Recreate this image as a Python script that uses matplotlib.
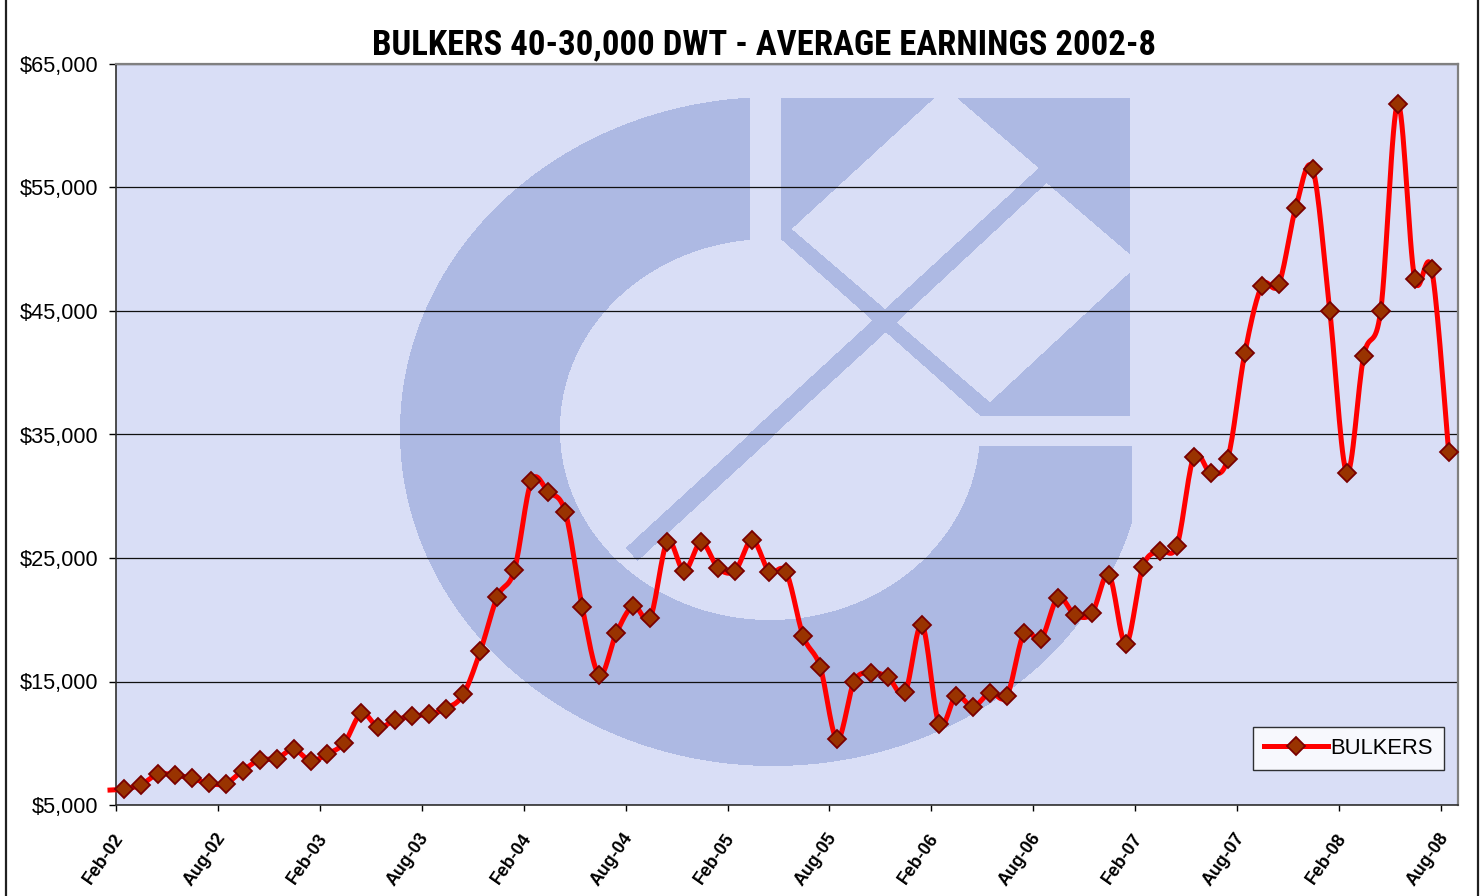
import numpy as np
import matplotlib
matplotlib.use("Agg")
import matplotlib.pyplot as plt
from matplotlib.path import Path
from matplotlib.lines import Line2D
from matplotlib.transforms import ScaledTranslation, blended_transform_factory
from matplotlib import font_manager

# ---------------- data ----------------
title = "BULKERS 40-30,000 DWT - AVERAGE EARNINGS 2002-8"
series_name = "BULKERS"
# monthly average earnings, Feb-02 ... Aug-08 ($/day)
earnings = [6300, 6620, 7490, 7430, 7160, 6760, 6730, 7780, 8650, 8750,
            9510, 8590, 9130, 10050, 12430, 11290, 11900, 12180, 12370, 12810,
            13970, 17470, 21870, 24010, 31220, 30350, 28710, 21010, 15530, 18910,
            21120, 20170, 26300, 23950, 26280, 24170, 23980, 26470, 23900, 23850,
            18690, 16200, 10320, 14990, 15720, 15340, 14130, 19580, 11550, 13830,
            12960, 14100, 13850, 18910, 18420, 21790, 20390, 20530, 23630, 18040,
            24300, 25600, 25980, 33210, 31900, 33050, 41590, 47040, 47170, 53380,
            56490, 45040, 31920, 41370, 45040, 61780, 47610, 48390, 33570]
prior_value = 6200   # Jan-02, line only (no marker) at the left edge
x_tick_labels = ["Feb-02", "Aug-02", "Feb-03", "Aug-03", "Feb-04", "Aug-04", "Feb-05",
                 "Aug-05", "Feb-06", "Aug-06", "Feb-07", "Aug-07", "Feb-08", "Aug-08"]
y_ticks = [5000, 15000, 25000, 35000, 45000, 55000, 65000]
y_tick_labels = ["$5,000", "$15,000", "$25,000", "$35,000", "$45,000", "$55,000", "$65,000"]

# ---------------- figure ----------------
W, H = 1481, 896
fig = plt.figure(figsize=(W / 100, H / 100), dpi=100)
fig.patch.set_facecolor("white")
L, R, T, B = 116, 1458, 64, 805
ax = fig.add_axes([L / W, 1 - B / H, (R - L) / W, (B - T) / H])
BG = "#D9DEF6"
DARK = np.array([173, 185, 227]) / 255.0
ax.set_facecolor(BG)

# ---------------- watermark logo (raster, pixel coordinates) ----------------
xs_pix = np.arange(L, R) + 0.5
ys_pix = np.arange(T, B) + 0.5
X, Y = np.meshgrid(xs_pix, ys_pix)
pts = np.column_stack([X.ravel(), Y.ravel()])

def ell(cx, cy, a, b):
    return ((X - cx) / a) ** 2 + ((Y - cy) / b) ** 2 <= 1.0

def poly(vertices):
    return Path(vertices).contains_points(pts).reshape(X.shape)

ring = ell(773, 432, 373, 334) & ~ell(770, 430, 210, 190)
ring &= ~((X > 750) & (Y < 446)) & (X < 1132)

square = poly([(780.7, 99.3), (1130, 99.3), (1130, 416.7), (980, 416.7), (780.7, 240)])
d1 = poly([(791.7, 230), (885, 310), (1038.7, 169), (945.3, 89)])
d2 = poly([(896.7, 323.3), (990, 403.3), (1140, 264), (1046.7, 184)])
stripe = poly([(885, 310), (896.7, 323.3), (637.6, 561), (625.6, 548)])
dark = ring | (square & ~d1 & ~d2) | stripe

img = np.zeros(X.shape + (4,))
img[..., :3] = DARK
img[..., 3] = dark.astype(float)
ax.imshow(img, extent=(0, 1, 0, 1), transform=ax.transAxes, origin="upper",
          aspect="auto", interpolation="nearest", zorder=0.1)

# ---------------- smoothed line ----------------
def smooth(xv, yv, n=16):
    P = np.column_stack([xv, yv]).astype(float)
    Pe = np.vstack([P[0], P, P[-1]])
    t = np.linspace(0, 1, n, endpoint=False)[:, None]
    out = []
    for i in range(len(P) - 1):
        p0, p1, p2, p3 = Pe[i], Pe[i + 1], Pe[i + 2], Pe[i + 3]
        c1 = p1 + (p2 - p0) / 6.0
        c2 = p2 - (p3 - p1) / 6.0
        out.append((1 - t) ** 3 * p1 + 3 * (1 - t) ** 2 * t * c1
                   + 3 * (1 - t) * t ** 2 * c2 + t ** 3 * p2)
    out.append(P[-1][None])
    return np.vstack(out)

LINE_C, MFC, MEC = "#FF0000", "#993300", "#7A0000"
LW, MS, MEW = 3.6, 9.6, 1.3
offset = 0.45
xpos = np.arange(len(earnings)) + offset
line_x = np.concatenate([[offset - 0.95], xpos])
line_y = np.concatenate([[prior_value], earnings])
S = smooth(line_x, line_y)
ax.plot(S[:, 0], S[:, 1], color=LINE_C, lw=LW, solid_capstyle="butt",
        zorder=3, clip_on=False)
ax.plot(xpos, earnings, ls="none", marker="D", ms=MS, mfc=MFC,
        mec=MEC, mew=MEW, zorder=4, clip_on=False)

# ---------------- axes ----------------
ax.set_xlim(0, 79)
ax.set_ylim(5000, 65000)
ax.set_yticks(y_ticks)
ax.set_yticklabels(y_tick_labels)
xticks = np.arange(0, 6 * len(x_tick_labels), 6)
ax.set_xticks(xticks)
ax.set_xticklabels([""] * len(xticks))
ax.yaxis.grid(True, color="#101010", lw=0.9)
ax.set_axisbelow(True)
for g in ax.get_ygridlines():
    g.set_zorder(0.5)

for s in ("top", "right"):
    ax.spines[s].set_color("#808080")
    ax.spines[s].set_linewidth(1.6)
for s in ("left", "bottom"):
    ax.spines[s].set_color("#303030")
    ax.spines[s].set_linewidth(1.2)

ax.tick_params(axis="y", direction="out", length=5, width=1, pad=7.5,
               labelsize=15.7, colors="#000000")
ax.tick_params(axis="x", direction="out", length=4.3, width=1, colors="#000000")
for lab in ax.get_yticklabels():
    lab.set_family(["Liberation Sans", "DejaVu Sans"])

# rotated x labels (end of text just below each tick)
xtrans = blended_transform_factory(ax.transData, ax.transAxes) + \
    ScaledTranslation(4 / 100, -30 / 100, fig.dpi_scale_trans)
for xt, lab in zip(xticks, x_tick_labels):
    ax.text(xt, 0, lab, transform=xtrans, rotation=55, ha="right", va="center",
            rotation_mode="anchor", fontsize=12.8, fontweight="bold",
            family=["Liberation Sans", "DejaVu Sans"], clip_on=False)

# ---------------- legend ----------------
handle = Line2D([], [], color=LINE_C, lw=LW, marker="D", ms=MS,
                mfc=MFC, mec=MEC, mew=MEW)
leg = ax.legend([handle], [series_name], loc="lower right",
                bbox_to_anchor=((1444 - L) / (R - L), (B - 770) / (B - T)),
                bbox_transform=ax.transAxes, borderaxespad=0, fancybox=False,
                frameon=True, handlelength=2.9, handletextpad=0.12,
                borderpad=0.5,
                prop={"family": ["Liberation Sans", "DejaVu Sans"], "size": 15.8})
leg.get_frame().set_edgecolor("#000000")
leg.get_frame().set_linewidth(1.0)
leg.get_frame().set_facecolor("white")
leg.set_zorder(6)

# ---------------- title ----------------
names = {f.name for f in font_manager.fontManager.ttflist}
tfam, tsize = ["Liberation Sans", "DejaVu Sans"], 21.3
for cand in ("Liberation Sans Narrow", "Roboto Condensed", "Open Sans Condensed",
             "Arial Narrow"):
    if cand in names:
        tfam, tsize = [cand, "DejaVu Sans"], 25
        break
fig.text(764.5 / W, 1 - 45 / H, title, ha="center", va="center",
         fontsize=tsize, fontweight="bold", family=tfam)

# ---------------- chart border ----------------
for xp in (5.5, 1477.5):
    fig.add_artist(Line2D([xp / W, xp / W], [0, 1], color="#202020", lw=1.6,
                          transform=fig.transFigure))

fig.savefig("out.png", dpi=100)
